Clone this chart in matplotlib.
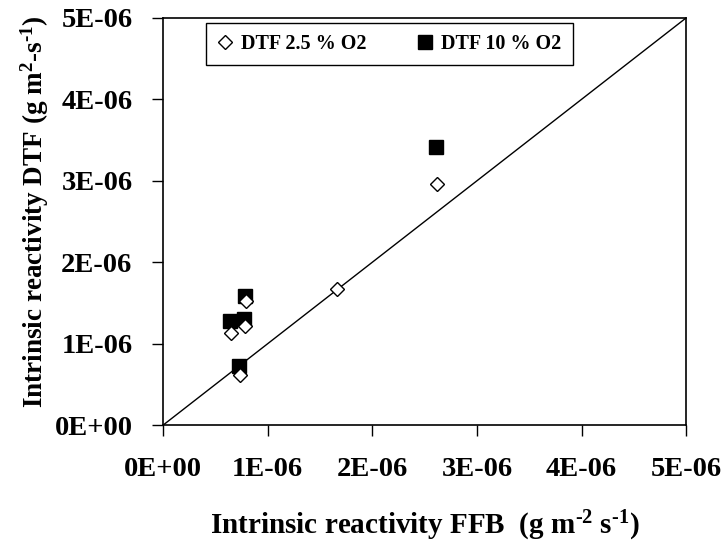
import matplotlib
matplotlib.use("Agg")
import matplotlib.pyplot as plt

plt.rcParams["font.family"] = "Liberation Serif"
plt.rcParams["font.weight"] = "bold"
plt.rcParams["axes.labelweight"] = "bold"
plt.rcParams["mathtext.fontset"] = "custom"
plt.rcParams["mathtext.rm"] = "Liberation Serif:bold"
plt.rcParams["mathtext.bf"] = "Liberation Serif:bold"
plt.rcParams["mathtext.it"] = "Liberation Serif:bold"
plt.rcParams["mathtext.default"] = "rm"

# FFB reactivity (x) vs DTF reactivity (y), g m-2 s-1
ffb_25 = [0.65e-6, 0.78e-6, 0.795e-6, 0.74e-6, 1.66e-6, 2.62e-6]
dtf_25 = [1.13e-6, 1.22e-6, 1.52e-6, 0.62e-6, 1.67e-6, 2.96e-6]
ffb_10 = [0.64e-6, 0.77e-6, 0.785e-6, 0.73e-6, 2.61e-6]
dtf_10 = [1.28e-6, 1.30e-6, 1.58e-6, 0.73e-6, 3.41e-6]

ticks = [0, 1e-6, 2e-6, 3e-6, 4e-6, 5e-6]
tick_labels = ["0E+00", "1E-06", "2E-06", "3E-06", "4E-06", "5E-06"]

fig = plt.figure(figsize=(7.23, 5.43), dpi=100)
ax = fig.add_axes([0.2255, 0.217, 0.7235, 0.750])

ax.plot([0, 5e-6], [0, 5e-6], color="black", lw=1.0, zorder=1)
ax.plot(ffb_25, dtf_25, "D", ms=7.5, mfc="white", mec="black", mew=1.0,
        ls="none", label="DTF 2.5 % O2", zorder=3)
ax.plot(ffb_10, dtf_10, "s", ms=9.5, mfc="black", mec="black",
        ls="none", label="DTF 10 % O2", zorder=2)

ax.set_xlim(0, 5e-6)
ax.set_ylim(0, 5e-6)
ax.set_xticks(ticks)
ax.set_xticklabels(tick_labels)
ax.set_yticks(ticks)
ax.set_yticklabels(tick_labels)
ax.tick_params(direction="out", length=8, width=1, labelsize=20.5, pad=15)
ax.tick_params(axis="y", pad=14)
for s in ax.spines.values():
    s.set_linewidth(1.2)

ax.set_xlabel(r"Intrinsic reactivity FFB  (g m$^{\text{-2}}$ s$^{\text{-1}}$)",
              fontsize=21, labelpad=19)
ax.set_ylabel(r"Intrinsic reactivity DTF (g m$^{2}$-s$^{\text{-1}}$)",
              fontsize=19.5)
ax.yaxis.set_label_coords(-0.214, 0.525)

leg = ax.legend(loc="upper left", bbox_to_anchor=(0.082, 0.988), ncol=2,
                fontsize=14.5, frameon=True, fancybox=False, framealpha=1,
                edgecolor="black", handlelength=0.8, handletextpad=0.4,
                columnspacing=2.5, borderpad=0.55, borderaxespad=0)
leg.get_frame().set_linewidth(1.0)

fig.savefig("out.png", dpi=100)
